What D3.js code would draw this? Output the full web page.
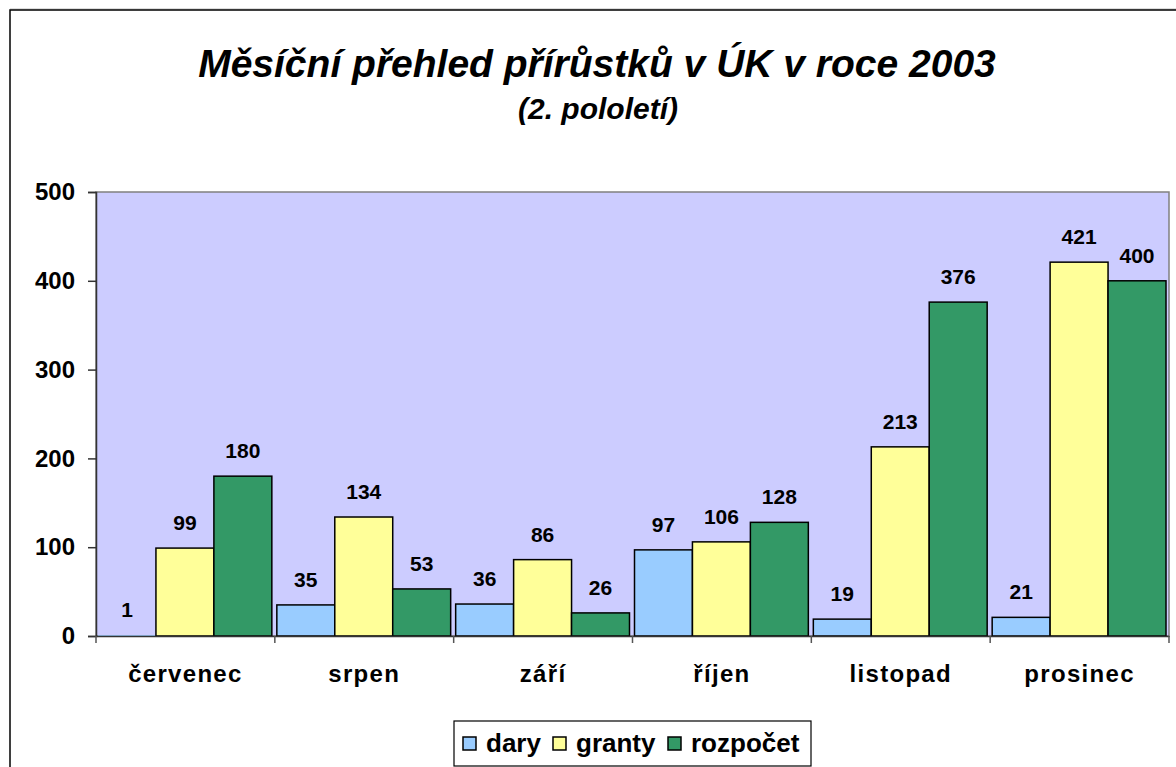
<!DOCTYPE html>
<html>
<head>
<meta charset="utf-8">
<title>Měsíční přehled přírůstků v ÚK v roce 2003</title>
<style>
  body { margin: 0; background: #fff; }
  svg text { font-family: "Liberation Sans", Arial, sans-serif; font-weight: bold; fill: #000; }
</style>
</head>
<body>
<div id="chart"></div>
<script src="https://d3js.org/d3.v7.min.js"></script>
<script>
// data
const months = ["červenec", "srpen", "září", "říjen", "listopad", "prosinec"];
const seriesNames = ["dary", "granty", "rozpočet"];
const dary = [1, 35, 36, 97, 19, 21];
const granty = [99, 134, 86, 106, 213, 421];
const rozpocet = [180, 53, 26, 128, 376, 400];
const yTicks = [0, 100, 200, 300, 400, 500];
const colors = ["#99ccff", "#ffff99", "#339966"];

const series = [dary, granty, rozpocet];
const rows = months.map((m, i) => ({ month: m, values: series.map(s => s[i]) }));

const width = 1176, height = 767;
const plot = { left: 96, right: 1169, top: 192, bottom: 636 };

const svg = d3.select("#chart").append("svg")
  .attr("width", width).attr("height", height);

// outer chart border (runs past the right and bottom edge)
svg.append("line").attr("x1", 10).attr("x2", width + 5).attr("y1", 9).attr("y2", 9)
  .attr("stroke", "#bbb").attr("stroke-width", 1);
svg.append("rect").attr("x", 10).attr("y", 10).attr("width", width + 20).attr("height", height + 20)
  .attr("fill", "none").attr("stroke", "#000").attr("stroke-width", 1.5);

// titles
svg.append("text").attr("x", 597).attr("y", 77).attr("text-anchor", "middle")
  .style("font-size", "39px").style("font-style", "italic")
  .text("Měsíční přehled přírůstků v ÚK v roce 2003");
svg.append("text").attr("x", 598).attr("y", 119).attr("text-anchor", "middle")
  .style("font-size", "30px").style("font-style", "italic")
  .text("(2. pololetí)");

const x = d3.scaleBand().domain(months).range([plot.left, plot.right]).padding(0);
const xInner = d3.scaleBand().domain(d3.range(series.length))
  .range([2, x.bandwidth() - 3]).padding(0);
const y = d3.scaleLinear().domain([0, 500]).range([plot.bottom, plot.top]);

// plot area
svg.append("rect")
  .attr("x", plot.left).attr("y", plot.top)
  .attr("width", plot.right - plot.left).attr("height", plot.bottom - plot.top)
  .attr("fill", "#ccccff").attr("stroke", "#808080").attr("stroke-width", 1.5);

// bars
const groups = svg.selectAll(".grp").data(rows).enter().append("g")
  .attr("transform", d => `translate(${x(d.month)},0)`);

groups.selectAll("rect").data(d => d.values).enter().append("rect")
  .attr("x", (v, i) => xInner(i))
  .attr("y", v => y(v))
  .attr("width", xInner.bandwidth())
  .attr("height", v => y(0) - y(v))
  .attr("fill", (v, i) => colors[i])
  .attr("stroke", "#000").attr("stroke-width", v => v < 2 ? 0 : 1.5);

groups.selectAll("text").data(d => d.values).enter().append("text")
  .attr("x", (v, i) => xInner(i) + xInner.bandwidth() / 2)
  .attr("y", v => y(v) - 18)
  .attr("text-anchor", "middle")
  .style("font-size", "21px")
  .text(v => v);

// y axis
const yAxis = svg.append("g").attr("transform", `translate(${plot.left},0)`)
  .call(d3.axisLeft(y).tickValues(yTicks).tickSize(8).tickPadding(13));
yAxis.select(".domain").attr("stroke", "#333").attr("stroke-width", 1.5);
yAxis.selectAll(".tick line").attr("stroke", "#333").attr("stroke-width", 1.5);
yAxis.selectAll(".tick text").style("font-size", "24px")
  .style("font-family", "'Liberation Sans', Arial, sans-serif").attr("fill", "#000");

// x axis
const xAxis = svg.append("g").attr("transform", `translate(0,${plot.bottom})`)
  .call(d3.axisBottom(x).tickSize(0).tickPadding(29));
xAxis.select(".domain").attr("stroke", "#333").attr("stroke-width", 1.5);
xAxis.selectAll(".tick text").style("font-size", "24px").style("letter-spacing", "1.3px")
  .style("font-family", "'Liberation Sans', Arial, sans-serif").attr("fill", "#000");
svg.append("g").selectAll("line")
  .data(months.map(m => x(m)).concat([plot.right])).enter().append("line")
  .attr("x1", d => d).attr("x2", d => d)
  .attr("y1", plot.bottom).attr("y2", plot.bottom + 7)
  .attr("stroke", "#555").attr("stroke-width", 1.5);

// legend
const legend = svg.append("g").attr("transform", "translate(454,721)");
legend.append("rect").attr("width", 357).attr("height", 45)
  .attr("fill", "#fff").attr("stroke", "#000").attr("stroke-width", 1.2);
const legendX = [9, 99, 214];
seriesNames.forEach((name, i) => {
  const g = legend.append("g").attr("transform", `translate(${legendX[i]},0)`);
  g.append("rect").attr("x", 0).attr("y", 16).attr("width", 13).attr("height", 13)
    .attr("fill", colors[i]).attr("stroke", "#000").attr("stroke-width", 1.5);
  g.append("text").attr("x", 23).attr("y", 31).style("font-size", "26px").text(name);
});
</script>
</body>
</html>
